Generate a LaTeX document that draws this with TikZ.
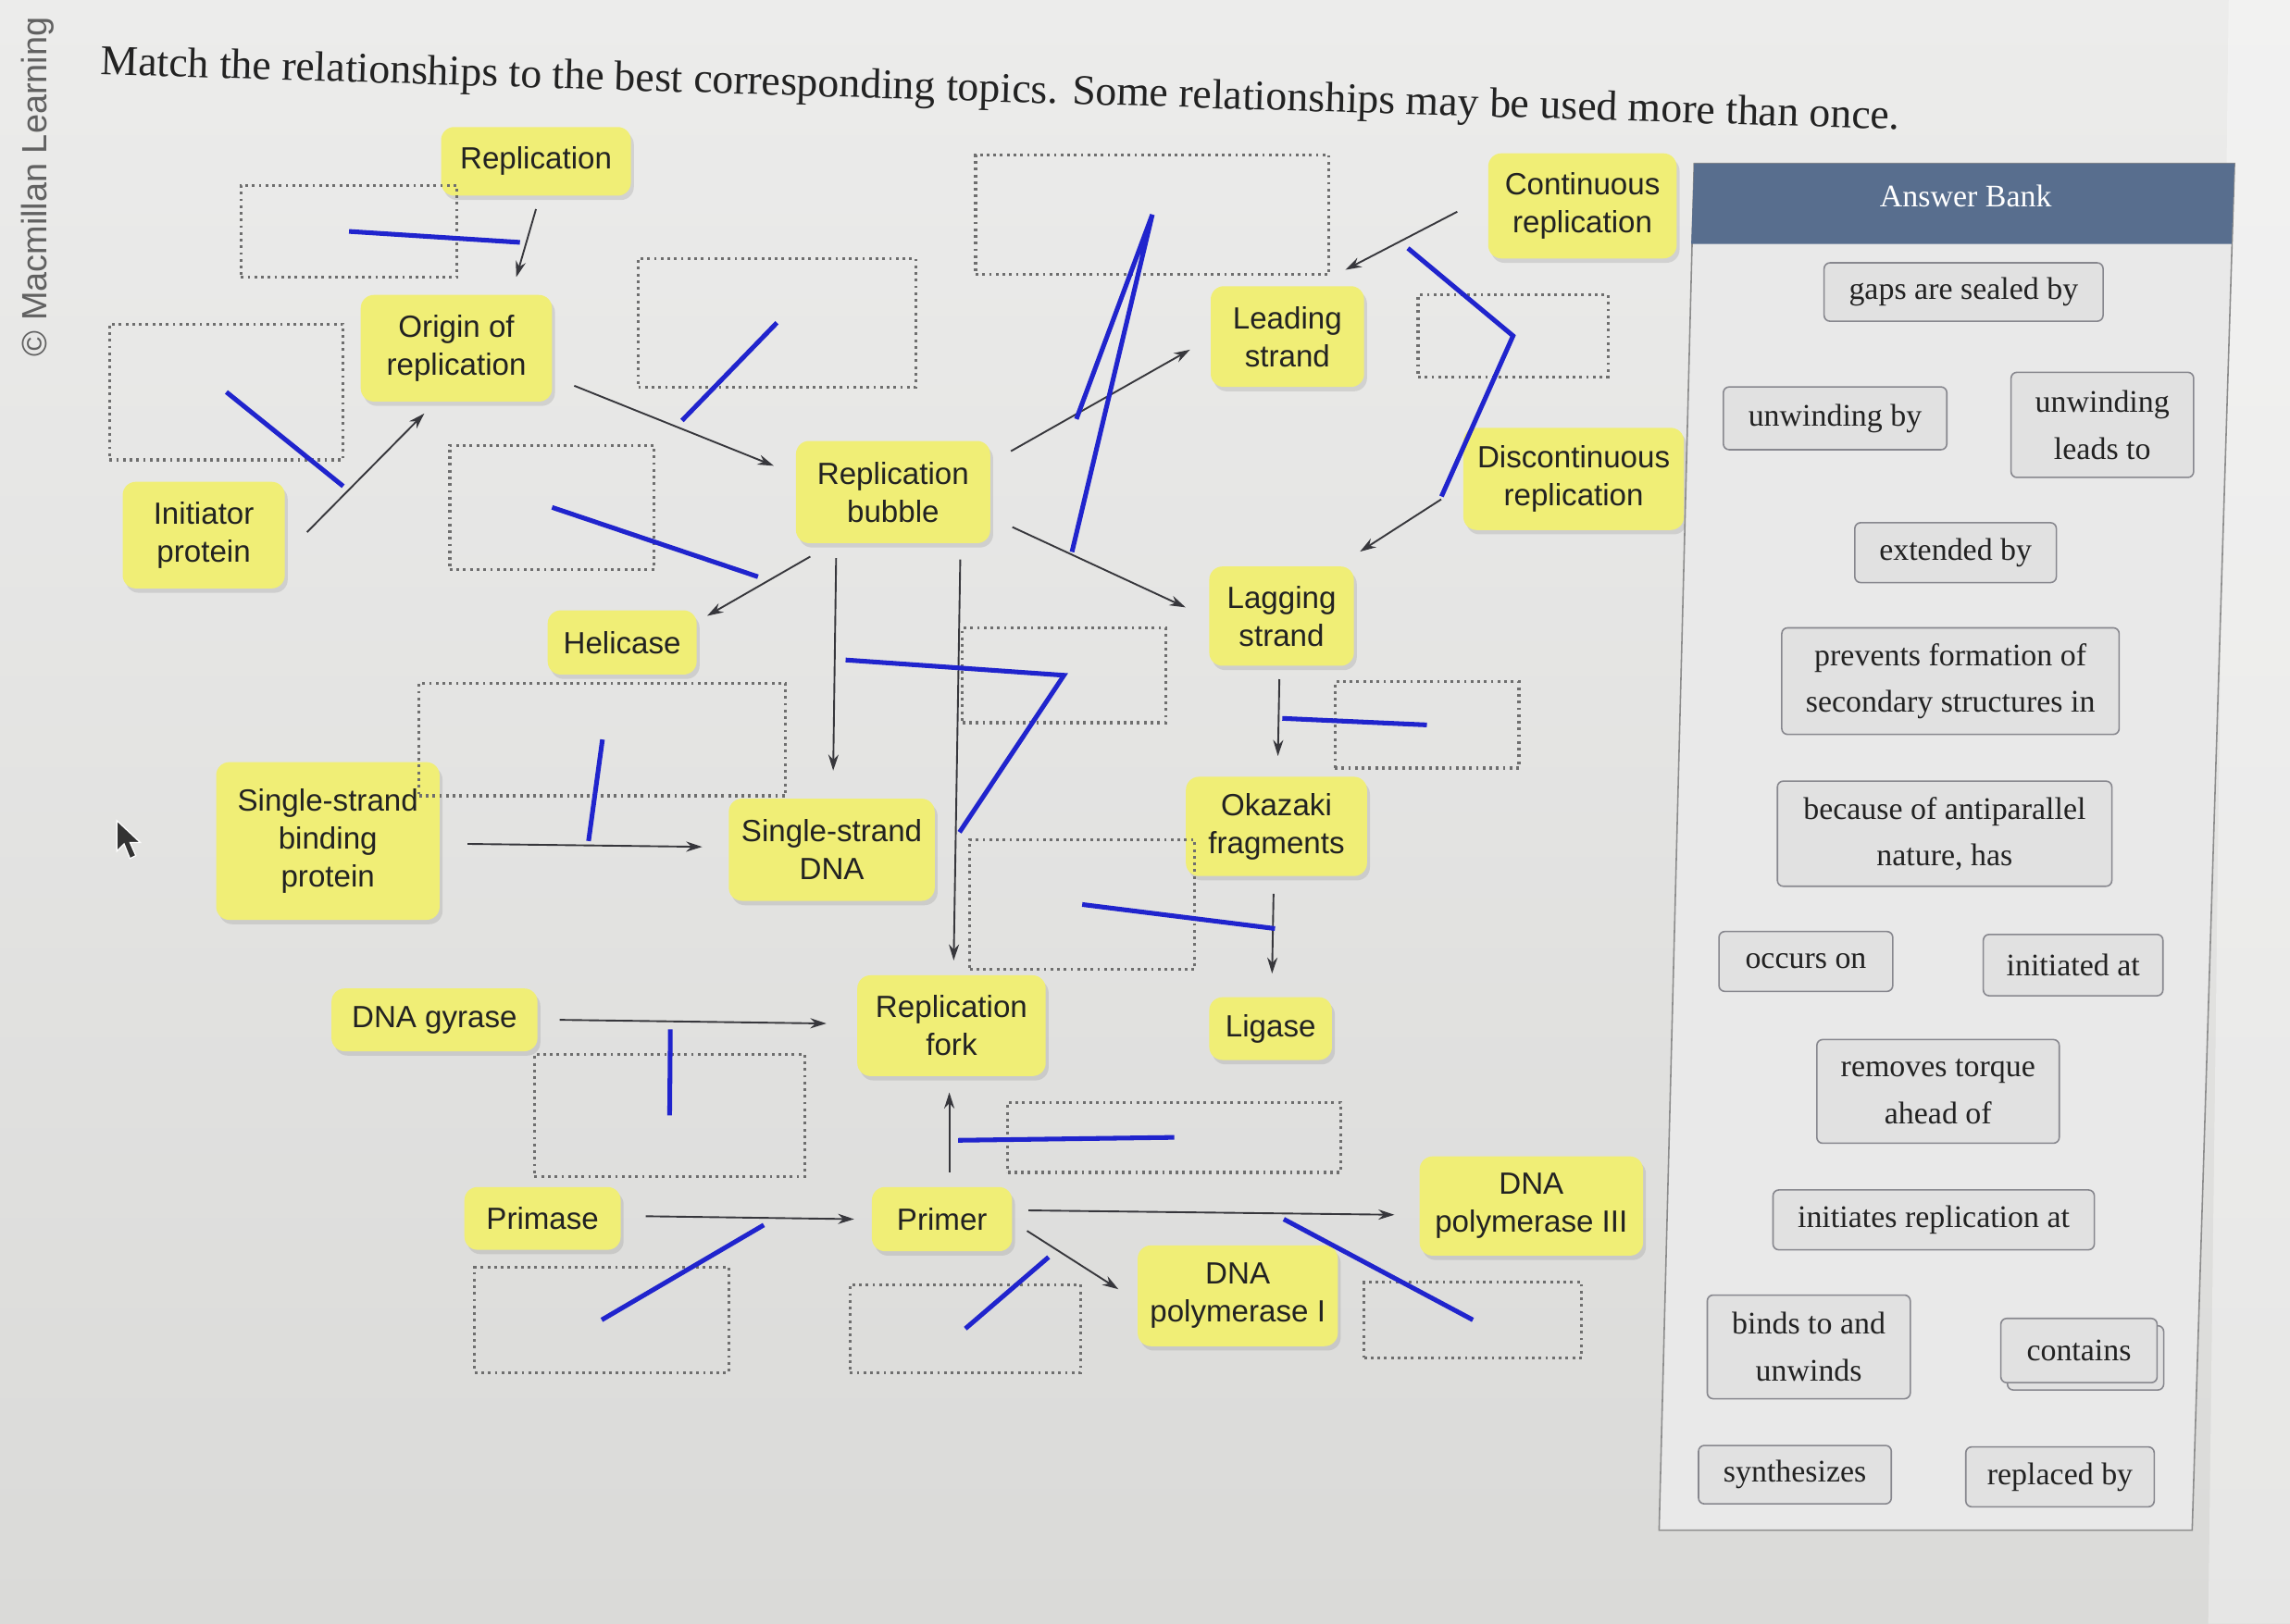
\documentclass[tikz,border=0pt]{standalone}
\usepackage{fontspec}
\setmainfont{Liberation Serif}
\newfontfamily\sansf{Liberation Sans}
\usetikzlibrary{shadows,calc,arrows.meta}
\definecolor{ybox}{RGB}{240,238,118}
\definecolor{bluepen}{RGB}{32,36,205}
\definecolor{conn}{RGB}{55,55,60}
\definecolor{hdr}{RGB}{88,110,142}
\definecolor{bankfill}{RGB}{233,233,233}
\definecolor{itemfill}{RGB}{225,225,225}
\definecolor{itemdraw}{RGB}{135,135,142}
\definecolor{dotc}{RGB}{110,110,110}
\definecolor{txt}{RGB}{34,34,34}
\definecolor{bgtop}{RGB}{236,236,235}
\definecolor{bgbot}{RGB}{218,218,216}
\begin{document}
\begin{tikzpicture}[x=1pt,y=-1pt,
  topicbox/.style={fill=ybox, rounded corners=9pt, align=center, font=\sansf\fontsize{21}{26}\selectfont, text=txt, inner sep=0pt,
    drop shadow={shadow xshift=2pt,shadow yshift=-3pt,opacity=0.22}},
  slotbox/.style={draw=dotc, line width=2pt, dash pattern=on 1.8pt off 2.8pt, inner sep=0pt},
  conlink/.style={draw=conn, line width=1.2pt, -{Stealth[length=11pt,width=7pt]}},
  bluestroke/.style={draw=bluepen, line width=3.2pt},
  ansitem/.style={draw=itemdraw, line width=1pt, fill=itemfill, rounded corners=4pt, align=center, font=\fontsize{21.5}{32}\selectfont, text=txt, inner sep=0pt},
]
\useasboundingbox (0,0) rectangle (1568,1112);
\shade[top color=bgtop, bottom color=bgbot] (0,0) rectangle (1568,1112);
\fill[white, opacity=0.35] (1526,0) -- (1568,0) -- (1568,1112) -- (1512,1112) -- cycle;

% brand and title
\node[rotate=90, text=black!62, font=\sansf\fontsize{24}{24}\selectfont] (brand) at (26,128) {© Macmillan Learning};
\node[anchor=west, rotate=-1.75, font=\fontsize{29}{32}\selectfont, text=txt, inner sep=0pt] (title) at (69,44)
  {Match the relationships to the best corresponding topics. Some relationships may be used more than once.};

% topics
\node[topicbox, minimum width=130pt, minimum height=47pt] (repl) at (367,110.5) {Replication};
\node[topicbox, minimum width=131pt, minimum height=73pt] (origin) at (312.5,238.5) {Origin of\\replication};
\node[topicbox, minimum width=111pt, minimum height=73pt] (init) at (139.5,366.5) {Initiator\\protein};
\node[topicbox, minimum width=133pt, minimum height=70pt] (bubble) at (611.5,337) {Replication\\bubble};
\node[topicbox, minimum width=105pt, minimum height=69pt] (leading) at (881.5,230.5) {Leading\\strand};
\node[topicbox, minimum width=129pt, minimum height=72pt] (cont) at (1083.5,141) {Continuous\\replication};
\node[topicbox, minimum width=151pt, minimum height=70pt] (disc) at (1077.5,328) {Discontinuous\\replication};
\node[topicbox, minimum width=99pt, minimum height=68pt] (lagging) at (877.5,422) {Lagging\\strand};
\node[topicbox, minimum width=102pt, minimum height=44pt] (helicase) at (426,440) {Helicase};
\node[topicbox, minimum width=153pt, minimum height=108pt] (ssb) at (224.5,576) {Single-strand\\binding\\protein};
\node[topicbox, minimum width=141pt, minimum height=70pt] (ssdna) at (569.5,582) {Single-strand\\DNA};
\node[topicbox, minimum width=124pt, minimum height=68pt] (okazaki) at (874,566) {Okazaki\\fragments};
\node[topicbox, minimum width=141pt, minimum height=43pt] (gyrase) at (297.5,698.5) {DNA gyrase};
\node[topicbox, minimum width=129pt, minimum height=69pt] (fork) at (651.5,702.5) {Replication\\fork};
\node[topicbox, minimum width=84pt, minimum height=43pt] (ligase) at (870,704.5) {Ligase};
\node[topicbox, minimum width=107pt, minimum height=43pt] (primase) at (371.5,834.5) {Primase};
\node[topicbox, minimum width=96pt, minimum height=44pt] (primer) at (645,835) {Primer};
\node[topicbox, minimum width=153pt, minimum height=68pt] (pol3) at (1048.5,826) {DNA\\polymerase III};
\node[topicbox, minimum width=137pt, minimum height=69pt] (pol1) at (847.5,887.5) {DNA\\polymerase I};

% empty slots
\node[slotbox, minimum width=148pt, minimum height=63pt] (s1) at (239,158.5) {};
\node[slotbox, minimum width=160pt, minimum height=93pt] (s2) at (155,268.5) {};
\node[slotbox, minimum width=190pt, minimum height=88pt] (s3) at (532,221) {};
\node[slotbox, minimum width=242pt, minimum height=82pt] (s4) at (789,147) {};
\node[slotbox, minimum width=140pt, minimum height=85pt] (s5) at (378,347.5) {};
\node[slotbox, minimum width=130pt, minimum height=56pt] (s6) at (1036,230) {};
\node[slotbox, minimum width=139pt, minimum height=65pt] (s7) at (728.5,462.5) {};
\node[slotbox, minimum width=251pt, minimum height=77pt] (s8) at (412.5,506.5) {};
\node[slotbox, minimum width=126pt, minimum height=59pt] (s9) at (977,496.5) {};
\node[slotbox, minimum width=154pt, minimum height=89pt] (s10) at (741,619.5) {};
\node[slotbox, minimum width=185pt, minimum height=84pt] (s11) at (458.5,764) {};
\node[slotbox, minimum width=228pt, minimum height=48pt] (s12) at (804,779) {};
\node[slotbox, minimum width=174pt, minimum height=72pt] (s13) at (412,904) {};
\node[slotbox, minimum width=158pt, minimum height=60pt] (s14) at (661,910) {};
\node[slotbox, minimum width=149pt, minimum height=52pt] (s15) at (1008.5,904) {};

% connectors
\draw[conlink] ([yshift=-9pt]repl.south) -- ([xshift=41pt,yshift=12pt]origin.north);
\draw[conlink] ([xshift=15pt,yshift=2pt]init.east) -- ([xshift=-22pt,yshift=-8pt]origin.south);
\draw[conlink] ([xshift=15pt,yshift=11pt]origin.south east) -- ([xshift=-15pt,yshift=18pt]bubble.west);
\draw[conlink] ([xshift=14pt,yshift=28pt]bubble.east) -- ([xshift=-14pt,yshift=-9pt]leading.west);
\draw[conlink] ([xshift=15pt,yshift=-24pt]bubble.east) -- ([xshift=-16pt,yshift=6pt]lagging.west);
\draw[conlink] ([xshift=10pt,yshift=-9pt]bubble.south west) -- ([xshift=7pt,yshift=-4pt]helicase.north east);
\draw[conlink] ($(bubble.south -| ssdna.north)+(3pt,-10pt)$) -- ([xshift=1pt,yshift=19pt]ssdna.north);
\draw[conlink] ([xshift=46pt,yshift=-11pt]bubble.south) -- ([xshift=1.5pt,yshift=10pt]fork.north);
\draw[conlink] ([xshift=-21pt,yshift=-4pt]cont.west) -- ([xshift=-13pt,yshift=11pt]leading.north east);
\draw[conlink] ([xshift=-15pt,yshift=-14pt]disc.west) -- ([xshift=4pt,yshift=10pt]lagging.north east);
\draw[conlink] ([xshift=-1.5pt,yshift=-9pt]lagging.south) -- ([xshift=1pt,yshift=14pt]okazaki.north);
\draw[conlink] ([xshift=-2pt,yshift=-12pt]okazaki.south) -- ([xshift=1pt,yshift=16pt]ligase.north);
\draw[conlink] ([xshift=19pt,yshift=-2pt]ssb.east) -- ([xshift=-18pt,yshift=2pt]ssdna.west);
\draw[conlink] ([xshift=15pt]gyrase.east) -- ([xshift=-21pt,yshift=1.5pt]fork.west);
\draw[conlink] ([xshift=5pt,yshift=10pt]primer.north) -- ([xshift=-1.5pt,yshift=-11pt]fork.south);
\draw[conlink] ([xshift=17pt,yshift=1.5pt]primase.east) -- ([xshift=-12pt]primer.west);
\draw[conlink] ([xshift=11pt,yshift=6pt]primer.east) -- ([xshift=-17pt,yshift=-6pt]pol3.west);
\draw[conlink] ([xshift=10pt,yshift=-8pt]primer.east) -- ([xshift=-13pt,yshift=4.5pt]pol1.west);

% blue pen strokes
\draw[bluestroke] (s1.center) -- (356,166);
\draw[bluestroke] (s2.center) -- (235,333);
\draw[bluestroke] (s3.center) -- (467,288);
\draw[bluestroke] (s5.center) -- (519,395);
\draw[bluestroke] (737,287) -- (s4.center) -- (734,378);
\draw[bluestroke] (964,170) -- (s6.center) -- (987,340);
\draw[bluestroke] (579,452) -- (s7.center) -- (657,570);
\draw[bluestroke] (s8.center) -- (403,576);
\draw[bluestroke] (878,492) -- (s9.center);
\draw[bluestroke] (s10.center) -- (873,636);
\draw[bluestroke] (459,705) -- (s11.center);
\draw[bluestroke] (656,781) -- (s12.center);
\draw[bluestroke] (s13.center) -- (523,839);
\draw[bluestroke] (s14.center) -- (718,861);
\draw[bluestroke] (879,835) -- (s15.center);

% cursor
\filldraw[fill=black!80, draw=white, line width=0.8pt] (80,562) -- (80,583) -- (85,578) -- (89,588) -- (93,586) -- (89,577) -- (96,577) -- cycle;

% answer bank
\draw[draw=black!45, line width=1pt, fill=bankfill] (1160,112) -- (1530,112) -- (1501,1048) -- (1136,1048) -- cycle;
\fill[hdr] (1160,112) -- (1530,112) -- (1528,167) -- (1158,167) -- cycle;
\node[text=white, font=\fontsize{21.5}{26}\selectfont] (bankhead) at (1346,134) {Answer Bank};

\node[ansitem, minimum width=191pt, minimum height=40pt] (b1) at (1344.5,200) {gaps are sealed by};
\node[ansitem, minimum width=153pt, minimum height=43pt] (b2) at (1256.5,286.5) {unwinding by};
\node[ansitem, minimum width=125pt, minimum height=72pt] (b3) at (1439.5,291) {unwinding\\leads to};
\node[ansitem, minimum width=138pt, minimum height=41pt] (b4) at (1339,378.5) {extended by};
\node[ansitem, minimum width=231pt, minimum height=73pt] (b5) at (1335.5,466.5) {prevents formation of\\secondary structures in};
\node[ansitem, minimum width=229pt, minimum height=72pt] (b6) at (1331.5,571) {because of antiparallel\\nature, has};
\node[ansitem, minimum width=119pt, minimum height=41pt] (b7) at (1236.5,658.5) {occurs on};
\node[ansitem, minimum width=123pt, minimum height=42pt] (b8) at (1419.5,661) {initiated at};
\node[ansitem, minimum width=166pt, minimum height=71pt] (b9) at (1327,747.5) {removes torque\\ahead of};
\node[ansitem, minimum width=220pt, minimum height=41pt] (b10) at (1324,835.5) {initiates replication at};
\node[ansitem, minimum width=139pt, minimum height=71pt] (b11) at (1238.5,922.5) {binds to and\\unwinds};
\node[ansitem, minimum width=107pt, minimum height=44pt] (b12s) at (1428,930) {};
\node[ansitem, minimum width=107pt, minimum height=44pt] (b12) at (1423.5,925) {contains};
\node[ansitem, minimum width=132pt, minimum height=40pt] (b13) at (1229,1010) {synthesizes};
\node[ansitem, minimum width=129pt, minimum height=41pt] (b14) at (1410.5,1011.5) {replaced by};
\end{tikzpicture}
\end{document}
